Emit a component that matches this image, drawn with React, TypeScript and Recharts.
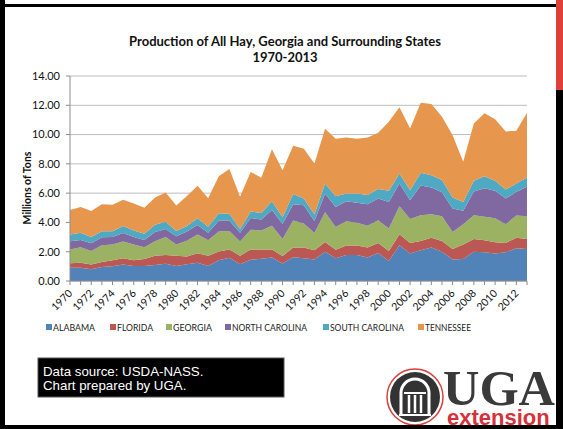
import React from 'react';
import { AreaChart, Area, XAxis, YAxis, CartesianGrid } from 'recharts';

const years = [
  '1970', '1971', '1972', '1973', '1974', '1975', '1976', '1977', '1978', '1979',
  '1980', '1981', '1982', '1983', '1984', '1985', '1986', '1987', '1988', '1989',
  '1990', '1991', '1992', '1993', '1994', '1995', '1996', '1997', '1998', '1999',
  '2000', '2001', '2002', '2003', '2004', '2005', '2006', '2007', '2008', '2009',
  '2010', '2011', '2012', '2013',
];

// millions of tons
const alabama = [
  0.9, 0.9, 0.8, 0.95, 1.0, 1.12, 1.02, 1.02, 1.1, 1.18,
  1.02, 1.15, 1.25, 1.02, 1.42, 1.58, 1.15, 1.45, 1.52, 1.6,
  1.2, 1.62, 1.55, 1.46, 2.0, 1.55, 1.78, 1.78, 1.6, 1.92,
  1.37, 2.44, 1.87, 2.1, 2.28, 2.0, 1.46, 1.5, 2.0, 1.96,
  1.87, 1.96, 2.23, 2.19,
];
const florida = [
  0.32, 0.35, 0.32, 0.35, 0.42, 0.43, 0.4, 0.48, 0.62, 0.6,
  0.7, 0.53, 0.65, 0.7, 0.6, 0.57, 0.57, 0.7, 0.63, 0.55,
  0.5, 0.66, 0.73, 0.64, 0.67, 0.59, 0.64, 0.64, 0.68, 0.68,
  0.68, 0.75, 0.73, 0.64, 0.68, 0.74, 0.73, 1.0, 0.87, 0.82,
  0.77, 0.64, 0.73, 0.68,
];
const georgia = [
  0.93, 1.05, 0.93, 1.15, 1.08, 1.15, 1.08, 0.8, 1.0, 1.22,
  0.78, 1.07, 1.28, 1.06, 1.36, 1.27, 0.98, 1.35, 1.3, 1.63,
  1.17, 1.86, 1.64, 1.18, 2.03, 1.55, 1.66, 1.55, 1.5, 1.55,
  1.53, 1.91, 1.64, 1.75, 1.6, 1.68, 1.16, 1.38, 1.62, 1.6,
  1.65, 1.28, 1.51, 1.55,
];
const northCarolina = [
  0.57, 0.5, 0.53, 0.53, 0.5, 0.58, 0.5, 0.5, 0.63, 0.55,
  0.55, 0.63, 0.64, 0.52, 0.74, 0.7, 0.6, 0.8, 0.75, 1.07,
  1.02, 1.1, 1.26, 0.82, 1.27, 1.37, 1.37, 1.37, 1.46, 1.48,
  1.82, 1.56, 1.28, 2.03, 1.82, 1.64, 1.6, 0.91, 1.62, 1.96,
  1.87, 1.75, 1.62, 2.01,
];
const southCarolina = [
  0.46, 0.5, 0.42, 0.42, 0.4, 0.47, 0.45, 0.42, 0.5, 0.5,
  0.37, 0.37, 0.46, 0.4, 0.5, 0.48, 0.25, 0.45, 0.45, 0.6,
  0.46, 0.7, 0.45, 0.46, 0.69, 0.73, 0.52, 0.63, 0.64, 0.66,
  0.76, 0.68, 0.68, 0.87, 0.85, 0.83, 0.75, 0.61, 0.73, 0.82,
  0.68, 0.62, 0.57, 0.64,
];
const tennessee = [
  1.67, 1.75, 1.78, 1.85, 1.8, 1.8, 1.85, 1.78, 1.85, 2.0,
  1.73, 2.05, 2.22, 1.95, 2.53, 3.05, 2.2, 2.7, 2.4, 3.55,
  3.22, 3.3, 3.4, 3.47, 3.74, 3.92, 3.83, 3.74, 3.92, 3.83,
  4.72, 4.52, 4.22, 4.79, 4.85, 4.33, 4.26, 2.74, 3.92, 4.29,
  4.2, 3.96, 3.6, 4.42,
];

const yTicks = [0, 2, 4, 6, 8, 10, 12, 14];

const series = [
  { key: 'alabama', name: 'ALABAMA', color: '#5283B8', values: alabama },
  { key: 'florida', name: 'FLORIDA', color: '#BC5853', values: florida },
  { key: 'georgia', name: 'GEORGIA', color: '#9BB262', values: georgia },
  { key: 'northCarolina', name: 'NORTH CAROLINA', color: '#8068A0', values: northCarolina },
  { key: 'southCarolina', name: 'SOUTH CAROLINA', color: '#4FA9C2', values: southCarolina },
  { key: 'tennessee', name: 'TENNESSEE', color: '#E6964D', values: tennessee },
];

const data = years.map((year, i) => {
  const row: Record<string, string | number> = { year };
  series.forEach((s) => { row[s.key] = s.values[i]; });
  return row;
});

const FONT = 'Lato, "Open Sans", sans-serif';

function YearTick(props: any) {
  const { x, y, payload } = props;
  if (Number(payload.value) % 2 !== 0) return <g />;
  const ax = x + 3;
  const ay = y + 7;
  return (
    <text x={ax} y={ay} transform={`rotate(-45 ${ax} ${ay})`} textAnchor="end"
      fontSize={10.5} fontFamily={FONT} fill="#111">
      {payload.value}
    </text>
  );
}

// legend layout: swatch x and label width
const legendX = [46, 110, 166, 225, 323, 418];
const legendW = [42, 36, 39, 75, 74, 46];

export default function App() {
  return (
    <div style={{ position: 'absolute', left: 0, top: 0, width: 563, height: 429, background: '#fff', overflow: 'hidden' }}>
      <AreaChart width={563} height={429} data={data} margin={{ top: 76, right: 36, bottom: 118, left: 0 }}>
        <CartesianGrid vertical={false} stroke="#BDBDBD" strokeWidth={1} />
        <XAxis dataKey="year" interval={0} height={30} tickSize={4} stroke="#8C8C8C"
          tick={<YearTick />} />
        <YAxis domain={[0, 14]} ticks={yTicks} width={70} tickSize={4} tickMargin={6} stroke="#8C8C8C"
          tickFormatter={(v: number) => v.toFixed(2)}
          tick={{ fill: '#111', fontSize: 11, fontFamily: FONT }} />
        {series.map((s) => (
          <Area key={s.key} dataKey={s.key} name={s.name} stackId="hay" type="linear"
            fill={s.color} fillOpacity={1} stroke="none" isAnimationActive={false} />
        ))}
      </AreaChart>

      <svg width={563} height={429} style={{ position: 'absolute', left: 0, top: 0, pointerEvents: 'none' }}>
        <text x={285} y={46} textAnchor="middle" fontFamily={FONT} fontWeight="bold" fontSize={13} fill="#111">
          Production of All Hay, Georgia and Surrounding States
        </text>
        <text x={285} y={62} textAnchor="middle" fontFamily={FONT} fontWeight="bold" fontSize={13} fill="#111">
          1970-2013
        </text>
        <text x={31} y={188} transform="rotate(-90 31 188)" textAnchor="middle" fontFamily={FONT}
          fontWeight="bold" fontSize={10.5} fill="#111">
          Millions of Tons
        </text>

        {series.map((s, i) => (
          <g key={s.key}>
            <rect x={legendX[i]} y={324} width={6} height={6} fill={s.color} />
            <text x={legendX[i] + 7} y={331} fontFamily={FONT} fontSize={10} fill="#222"
              textLength={legendW[i]} lengthAdjust="spacingAndGlyphs">{s.name}</text>
          </g>
        ))}

        <rect x={38} y={358} width={246} height={39} fill="#000" stroke="#555" strokeWidth={1} />
        <text x={43} y={376} fontFamily="'Liberation Sans', Arial, sans-serif" fontSize={13.3} fill="#fff">
          Data source: USDA-NASS.
        </text>
        <text x={43} y={390} fontFamily="'Liberation Sans', Arial, sans-serif" fontSize={13.3} fill="#fff">
          Chart prepared by UGA.
        </text>

        {/* UGA extension logo */}
        <circle cx={415} cy={397} r={28} fill="#fff" stroke="#D9403A" strokeWidth={1.5} />
        <circle cx={415} cy={397} r={25} fill="#333" />
        <path d="M 401 414 L 401 393 A 14 14 0 0 1 429 393 L 429 414" fill="none" stroke="#fff" strokeWidth={3} />
        <line x1={404} y1={393} x2={426} y2={393} stroke="#fff" strokeWidth={2} />
        <line x1={409} y1={395} x2={409} y2={413} stroke="#fff" strokeWidth={2.5} />
        <line x1={415} y1={395} x2={415} y2={413} stroke="#fff" strokeWidth={2.5} />
        <line x1={421} y1={395} x2={421} y2={413} stroke="#fff" strokeWidth={2.5} />
        <line x1={399} y1={415} x2={431} y2={415} stroke="#fff" strokeWidth={2} />
        <text x={443} y={405} fontFamily="'Liberation Serif', 'DejaVu Serif', serif" fontWeight="bold"
          fontSize={50} fill="#3A3A3A" textLength={112} lengthAdjust="spacingAndGlyphs">UGA</text>
        <text x={447} y={425} fontFamily="'Liberation Sans', Arial, sans-serif" fontWeight="bold"
          fontSize={22} fill="#D6303A">extension</text>

        {/* frame */}
        <rect x={0} y={0} width={5} height={429} fill="#000" />
        <rect x={0} y={4} width={557} height={3} fill="#000" />
        <rect x={0} y={425} width={563} height={4} fill="#000" />
        <rect x={556} y={0} width={7} height={90} fill="#E0403A" />
        <rect x={556} y={90} width={7} height={339} fill="#000" />
      </svg>
    </div>
  );
}
